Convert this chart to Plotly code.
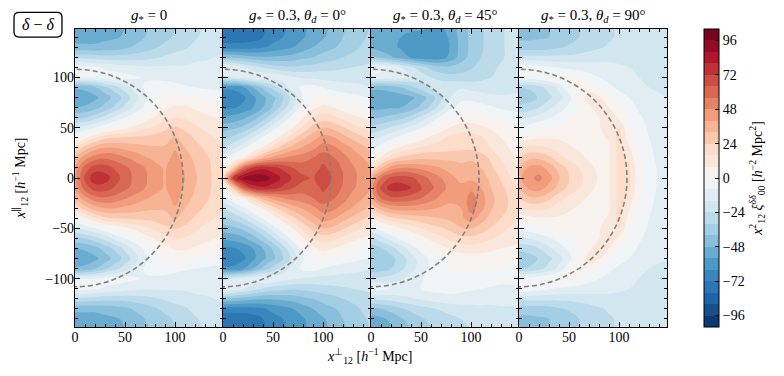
import numpy as np
import plotly.graph_objects as go
import plotly.colors as pc

# grid (h^-1 Mpc)
x_perp = [0, 10, 20, 30, 40, 50, 60, 70, 80, 90, 100, 110, 120, 130, 140, 150]
y_par = list(range(-150, 151, 10))

# x12^2 xi_00^dd, rows from y=150 down to y=0 (symmetric panels)
xi_g0 = [
    [-52, -52, -52, -51, -50, -48, -44, -41, -38, -35, -32, -29, -26, -23, -20, -18],
    [-52, -52, -52, -50, -49, -47, -43, -40, -37, -34, -31, -28, -25, -22, -20, -18],
    [-46, -46, -46, -45, -44, -42, -39, -36, -33, -30, -27, -25, -22, -20, -18, -17],
    [-26, -27, -28, -29, -29, -29, -28, -27, -25, -23, -21, -20, -18, -17, -16, -15],
    [-4, -5, -7, -9, -11, -13, -14, -15, -15, -15, -15, -15, -14, -14, -13, -13],
    [-7, -8, -7, -5, -4, -5, -7, -9, -10, -11, -12, -12, -12, -12, -12, -12],
    [-47, -46, -41, -34, -27, -20, -13, -7, -3, -3, -5, -7, -8, -9, -10, -10],
    [-53, -52, -50, -44, -37, -29, -19, -10, -2, 2, 3, 2, 0, -2, -3, -4],
    [-48, -47, -43, -37, -30, -22, -14, -6, 1, 6, 9, 9, 7, 5, 4, 3],
    [-34, -32, -27, -21, -14, -8, -2, 4, 9, 13, 16, 15, 12, 10, 8, 7],
    [-16, -13, -8, -3, 2, 6, 10, 14, 18, 22, 25, 22, 18, 14, 12, 10],
    [-3, 6, 15, 22, 24, 25, 26, 26, 27, 29, 33, 28, 23, 19, 16, 13],
    [16, 28, 36, 40, 40, 38, 36, 34, 33, 33, 39, 32, 27, 23, 19, 16],
    [32, 45, 53, 55, 53, 49, 45, 41, 38, 36, 43, 36, 30, 26, 21, 18],
    [42, 60, 68, 68, 63, 58, 53, 48, 43, 39, 46, 38, 32, 27, 22, 18],
    [45, 66, 78, 76, 68, 60, 54, 49, 44, 39, 48, 40, 33, 28, 22, 18],
]

xi_g03_th0 = [
    [-78, -78, -78, -77, -73, -68, -65, -62, -58, -53, -50, -46, -41, -38, -34, -31],
    [-78, -78, -77, -76, -72, -67, -64, -61, -57, -52, -49, -45, -40, -37, -33, -30],
    [-68, -68, -68, -67, -65, -62, -59, -56, -52, -48, -44, -41, -38, -34, -31, -28],
    [-40, -42, -44, -46, -47, -47, -46, -45, -42, -40, -37, -35, -32, -30, -28, -26],
    [-6, -10, -15, -20, -25, -28, -30, -31, -30, -29, -27, -26, -25, -24, -23, -22],
    [-18, -16, -13, -10, -8, -9, -12, -15, -17, -18, -19, -19, -19, -19, -19, -19],
    [-62, -62, -57, -48, -38, -29, -20, -12, -6, -5, -8, -11, -13, -14, -15, -16],
    [-71, -70, -66, -58, -50, -42, -33, -20, -8, 0, 2, 0, -3, -5, -7, -9],
    [-66, -65, -62, -56, -48, -39, -28, -16, -4, 6, 10, 8, 5, 2, 0, -2],
    [-54, -53, -50, -44, -36, -26, -15, -4, 7, 16, 20, 18, 14, 10, 7, 5],
    [-44, -42, -38, -31, -22, -12, -2, 8, 18, 27, 32, 30, 25, 20, 16, 13],
    [-34, -30, -24, -16, -7, 3, 13, 22, 30, 37, 43, 41, 35, 30, 25, 21],
    [-24, -18, -10, -1, 9, 20, 29, 36, 41, 46, 52, 50, 45, 39, 34, 29],
    [-10, -2, 8, 22, 35, 43, 48, 51, 53, 56, 61, 57, 51, 45, 40, 35],
    [0, 25, 58, 74, 78, 75, 70, 64, 60, 59, 66, 61, 55, 49, 44, 39],
    [18, 72, 90, 94, 93, 86, 78, 71, 66, 63, 70, 63, 56, 50, 45, 41],
]

# rows from y=150 down to y=-150 (not symmetric)
xi_g03_th45 = [
    [-54, -54, -54, -54, -55, -55, -56, -57, -52, -44, -38, -33, -29, -25, -22, -20],
    [-54, -54, -55, -56, -57, -58, -60, -60, -54, -45, -38, -33, -29, -25, -22, -20],
    [-50, -52, -54, -57, -60, -62, -63, -62, -55, -45, -38, -33, -29, -25, -22, -20],
    [-38, -42, -47, -52, -57, -61, -62, -60, -53, -44, -37, -32, -28, -25, -22, -20],
    [-4, -6, -10, -16, -22, -28, -34, -38, -38, -36, -33, -29, -26, -23, -21, -19],
    [-10, -10, -11, -13, -16, -20, -24, -27, -29, -29, -28, -26, -24, -22, -20, -18],
    [-46, -46, -44, -40, -34, -28, -22, -18, -16, -17, -19, -20, -20, -19, -18, -17],
    [-54, -54, -53, -52, -50, -44, -36, -26, -16, -10, -10, -12, -14, -15, -15, -15],
    [-50, -50, -49, -48, -44, -38, -30, -20, -10, -5, -4, -5, -7, -9, -10, -11],
    [-42, -40, -37, -34, -29, -22, -14, -6, 0, 3, 3, 2, 0, -2, -4, -5],
    [-30, -27, -23, -19, -14, -8, -2, 4, 9, 12, 12, 10, 7, 4, 2, 0],
    [-19, -15, -10, -5, 0, 5, 10, 14, 18, 20, 20, 17, 13, 8, 5, 2],
    [-10, -4, 4, 10, 14, 17, 19, 20, 21, 22, 22, 20, 16, 11, 7, 4],
    [0, 10, 20, 26, 28, 30, 30, 30, 30, 30, 31, 28, 22, 15, 10, 6],
    [15, 32, 44, 48, 48, 46, 43, 40, 37, 34, 34, 32, 26, 19, 13, 8],
    [38, 56, 66, 68, 66, 60, 54, 48, 42, 38, 38, 36, 30, 23, 16, 11],
    [45, 66, 76, 76, 72, 65, 58, 51, 45, 42, 46, 40, 32, 26, 20, 14],
    [40, 56, 62, 62, 60, 56, 51, 46, 42, 41, 52, 44, 34, 28, 22, 16],
    [25, 36, 42, 44, 44, 43, 41, 39, 38, 40, 52, 43, 33, 27, 22, 16],
    [6, 16, 22, 25, 27, 29, 31, 32, 34, 38, 44, 36, 29, 24, 19, 14],
    [-12, -4, 2, 8, 12, 16, 20, 23, 27, 31, 32, 28, 23, 19, 15, 12],
    [-26, -20, -13, -6, 0, 5, 10, 14, 18, 21, 22, 20, 17, 14, 11, 9],
    [-36, -33, -27, -20, -12, -5, 1, 5, 9, 11, 12, 11, 10, 8, 7, 6],
    [-40, -39, -35, -28, -20, -12, -6, -1, 2, 4, 4, 4, 3, 3, 2, 3],
    [-38, -36, -32, -26, -19, -12, -6, -2, 0, 1, 1, 1, 0, 0, -1, 0],
    [-22, -22, -20, -17, -13, -9, -5, -2, -1, -1, -2, -3, -4, -5, -5, -4],
    [-4, -6, -8, -9, -9, -8, -6, -5, -5, -6, -7, -8, -9, -10, -10, -9],
    [-22, -22, -21, -19, -17, -15, -13, -12, -11, -11, -12, -12, -13, -13, -13, -13],
    [-42, -40, -37, -33, -30, -27, -25, -23, -21, -20, -19, -18, -18, -17, -17, -16],
    [-52, -50, -46, -41, -37, -33, -30, -28, -26, -24, -22, -21, -20, -19, -18, -17],
    [-56, -54, -50, -44, -40, -36, -33, -30, -28, -26, -24, -22, -21, -20, -19, -18],
]

xi_g03_th90 = [
    [-42, -42, -41, -40, -38, -35, -32, -30, -27, -25, -23, -21, -20, -19, -19, -19],
    [-42, -42, -41, -40, -38, -35, -32, -29, -27, -25, -23, -21, -20, -19, -19, -19],
    [-36, -36, -36, -35, -33, -31, -29, -27, -25, -23, -21, -20, -19, -19, -19, -19],
    [-22, -22, -22, -22, -22, -22, -21, -20, -19, -18, -18, -18, -18, -18, -18, -18],
    [-2, -3, -5, -7, -9, -10, -11, -12, -13, -14, -15, -16, -17, -17, -17, -17],
    [-4, -4, -2, 0, 4, 2, -2, -5, -8, -11, -13, -15, -16, -17, -17, -17],
    [-32, -31, -27, -21, -14, -2, 8, 4, -1, -6, -10, -13, -15, -16, -17, -17],
    [-38, -36, -31, -26, -19, -11, 2, 12, 9, 0, -4, -8, -11, -13, -15, -16],
    [-30, -28, -24, -18, -12, -6, 0, 6, 15, 8, 0, -5, -9, -12, -14, -15],
    [-18, -16, -13, -9, -5, -1, 2, 4, 8, 17, 6, -2, -7, -10, -13, -14],
    [-6, -4, -1, 0, 1, 3, 4, 5, 7, 15, 16, 1, -5, -9, -12, -13],
    [4, 5, 7, 7, 7, 6, 5, 5, 6, 9, 19, 4, -4, -8, -11, -13],
    [14, 18, 18, 16, 12, 9, 7, 5, 5, 7, 19, 9, -2, -7, -10, -12],
    [24, 30, 30, 26, 19, 14, 10, 7, 5, 7, 19, 14, 0, -6, -10, -12],
    [32, 42, 44, 37, 29, 22, 16, 10, 6, 7, 19, 17, 2, -5, -9, -12],
    [38, 46, 50, 43, 33, 24, 19, 12, 7, 7, 19, 18, 3, -5, -9, -12],
]

panel_titles = [
    "<i>g</i><sub>*</sub> = 0",
    "<i>g</i><sub>*</sub> = 0.3, <i>θ</i><sub><i>d</i></sub> = 0°",
    "<i>g</i><sub>*</sub> = 0.3, <i>θ</i><sub><i>d</i></sub> = 45°",
    "<i>g</i><sub>*</sub> = 0.3, <i>θ</i><sub><i>d</i></sub> = 90°",
]
bao_radius = 108
levels_start, levels_end, level_step = -104, 104, 8
cbar_ticks = [-96, -72, -48, -24, 0, 24, 48, 72, 96]


def mirror(rows):
    # rows go from y=150 to y=0; fill y<0 with the same values
    return rows[:-1] + rows[::-1]


fields = [mirror(xi_g0), mirror(xi_g03_th0), xi_g03_th45[::-1], mirror(xi_g03_th90)]

# discrete RdBu_r bands like matplotlib contourf
mids = np.arange(levels_start + level_step / 2, levels_end, level_step)
band_cols = pc.sample_colorscale(pc.diverging.RdBu_r, list((mids - levels_start) / (levels_end - levels_start)))
lo = levels_start - level_step / 2
span = (levels_end - levels_start) + level_step
cscale = [[0, band_cols[0]]]
for m, c in zip(mids, band_cols):
    cscale.append([(m - level_step / 2 - lo) / span, c])
    cscale.append([(m + level_step / 2 - lo) / span, c])
cscale.append([1, band_cols[-1]])

FONT = "Liberation Serif"
fig = go.Figure()
for i, z in enumerate(fields):
    sfx = "" if i == 0 else str(i + 1)
    fig.add_trace(go.Contour(
        x=x_perp, y=y_par, z=z, xaxis="x" + sfx, yaxis="y" + sfx,
        colorscale=cscale, zmin=levels_start, zmax=levels_end, zauto=False,
        contours=dict(start=levels_start, end=levels_end, size=level_step, coloring="fill", showlines=False),
        line=dict(width=0, smoothing=1.3),
        showscale=(i == 0),
        colorbar=dict(x=1.0625, xanchor="left", xpad=0, y=0.5, yanchor="middle", len=1, ypad=0,
                      thickness=15, outlinecolor="black", outlinewidth=1,
                      ticks="inside", ticklen=4, tickcolor="black", tickvals=cbar_ticks,
                      tickfont=dict(family=FONT, size=14, color="black"),
                      title=dict(text="<i>x</i><sup>2</sup><sub>12</sub> <i>ξ</i><sup><i>δδ</i></sup><sub>00</sub> [<i>h</i><sup>−2</sup> Mpc<sup>2</sup>]",
                                 side="right", font=dict(family=FONT, size=14, color="black"))),
        hoverinfo="skip",
    ))
    fig.add_shape(type="circle", xref="x" + sfx, yref="y" + sfx,
                  x0=-bao_radius, x1=bao_radius, y0=-bao_radius, y1=bao_radius,
                  line=dict(color="#808080", width=1.6, dash="5px,3px"), layer="above")

axis_common = dict(showline=True, linecolor="black", linewidth=1.3, mirror="ticks",
                   ticks="inside", ticklen=5, tickwidth=1.2, tickcolor="black",
                   minor=dict(ticks="inside", ticklen=3, tickcolor="black", dtick=10),
                   showgrid=False, zeroline=False,
                   tickfont=dict(family=FONT, size=14, color="black"))
# page body has an 8px margin: shrink the figure so the plot box lands where the reference has it
layout = dict(width=776, height=368, margin=dict(l=67, r=117, t=21, b=49),
              paper_bgcolor="white", plot_bgcolor="white", showlegend=False,
              font=dict(family=FONT, color="black"))
for i in range(4):
    sfx = "" if i == 0 else str(i + 1)
    layout["xaxis" + sfx] = dict(axis_common, domain=[i / 4, (i + 1) / 4], range=[0, 148],
                                 tickvals=[0, 50, 100], anchor="y" + sfx, ticklabelstandoff=-3)
    layout["yaxis" + sfx] = dict(axis_common, range=[-148, 148], tickvals=[-100, -50, 0, 50, 100],
                                 anchor="x" + sfx, showticklabels=(i == 0), ticklabelstandoff=-3)
fig.update_layout(**layout)

for i, t in enumerate(panel_titles):
    fig.add_annotation(text=t, x=(i + 0.5) / 4, y=1.042, xref="paper", yref="paper",
                       xanchor="center", yanchor="middle", showarrow=False,
                       font=dict(family=FONT, size=15, color="black"))
fig.add_annotation(text="<i>x</i><sup>∥</sup><sub>12</sub> [<i>h</i><sup>−1</sup> Mpc]", x=-0.093, y=0.5,
                   xref="paper", yref="paper", xanchor="center", yanchor="middle", textangle=-90,
                   showarrow=False, font=dict(family=FONT, size=14, color="black"))
fig.add_annotation(text="<i>x</i><sup>⊥</sup><sub>12</sub> [<i>h</i><sup>−1</sup> Mpc]", x=0.498, y=-0.097,
                   xref="paper", yref="paper", xanchor="center", yanchor="middle", showarrow=False,
                   font=dict(family=FONT, size=14, color="black"))

# rounded label box
x0, x1, y0, y1 = -0.103, -0.022, 0.973, 1.056
rx, ry = 5 / 592, 5 / 298
box = (f"M {x0 + rx},{y0} L {x1 - rx},{y0} Q {x1},{y0} {x1},{y0 + ry} L {x1},{y1 - ry} "
       f"Q {x1},{y1} {x1 - rx},{y1} L {x0 + rx},{y1} Q {x0},{y1} {x0},{y1 - ry} "
       f"L {x0},{y0 + ry} Q {x0},{y0} {x0 + rx},{y0} Z")
fig.add_shape(type="path", path=box, xref="paper", yref="paper", line=dict(color="black", width=1.3))
fig.add_annotation(text="<i>δ</i> − <i>δ</i>", x=(x0 + x1) / 2, y=(y0 + y1) / 2, xref="paper", yref="paper",
                   xanchor="center", yanchor="middle", showarrow=False,
                   font=dict(family=FONT, size=16, color="black"))

fig.write_html("out.html")
